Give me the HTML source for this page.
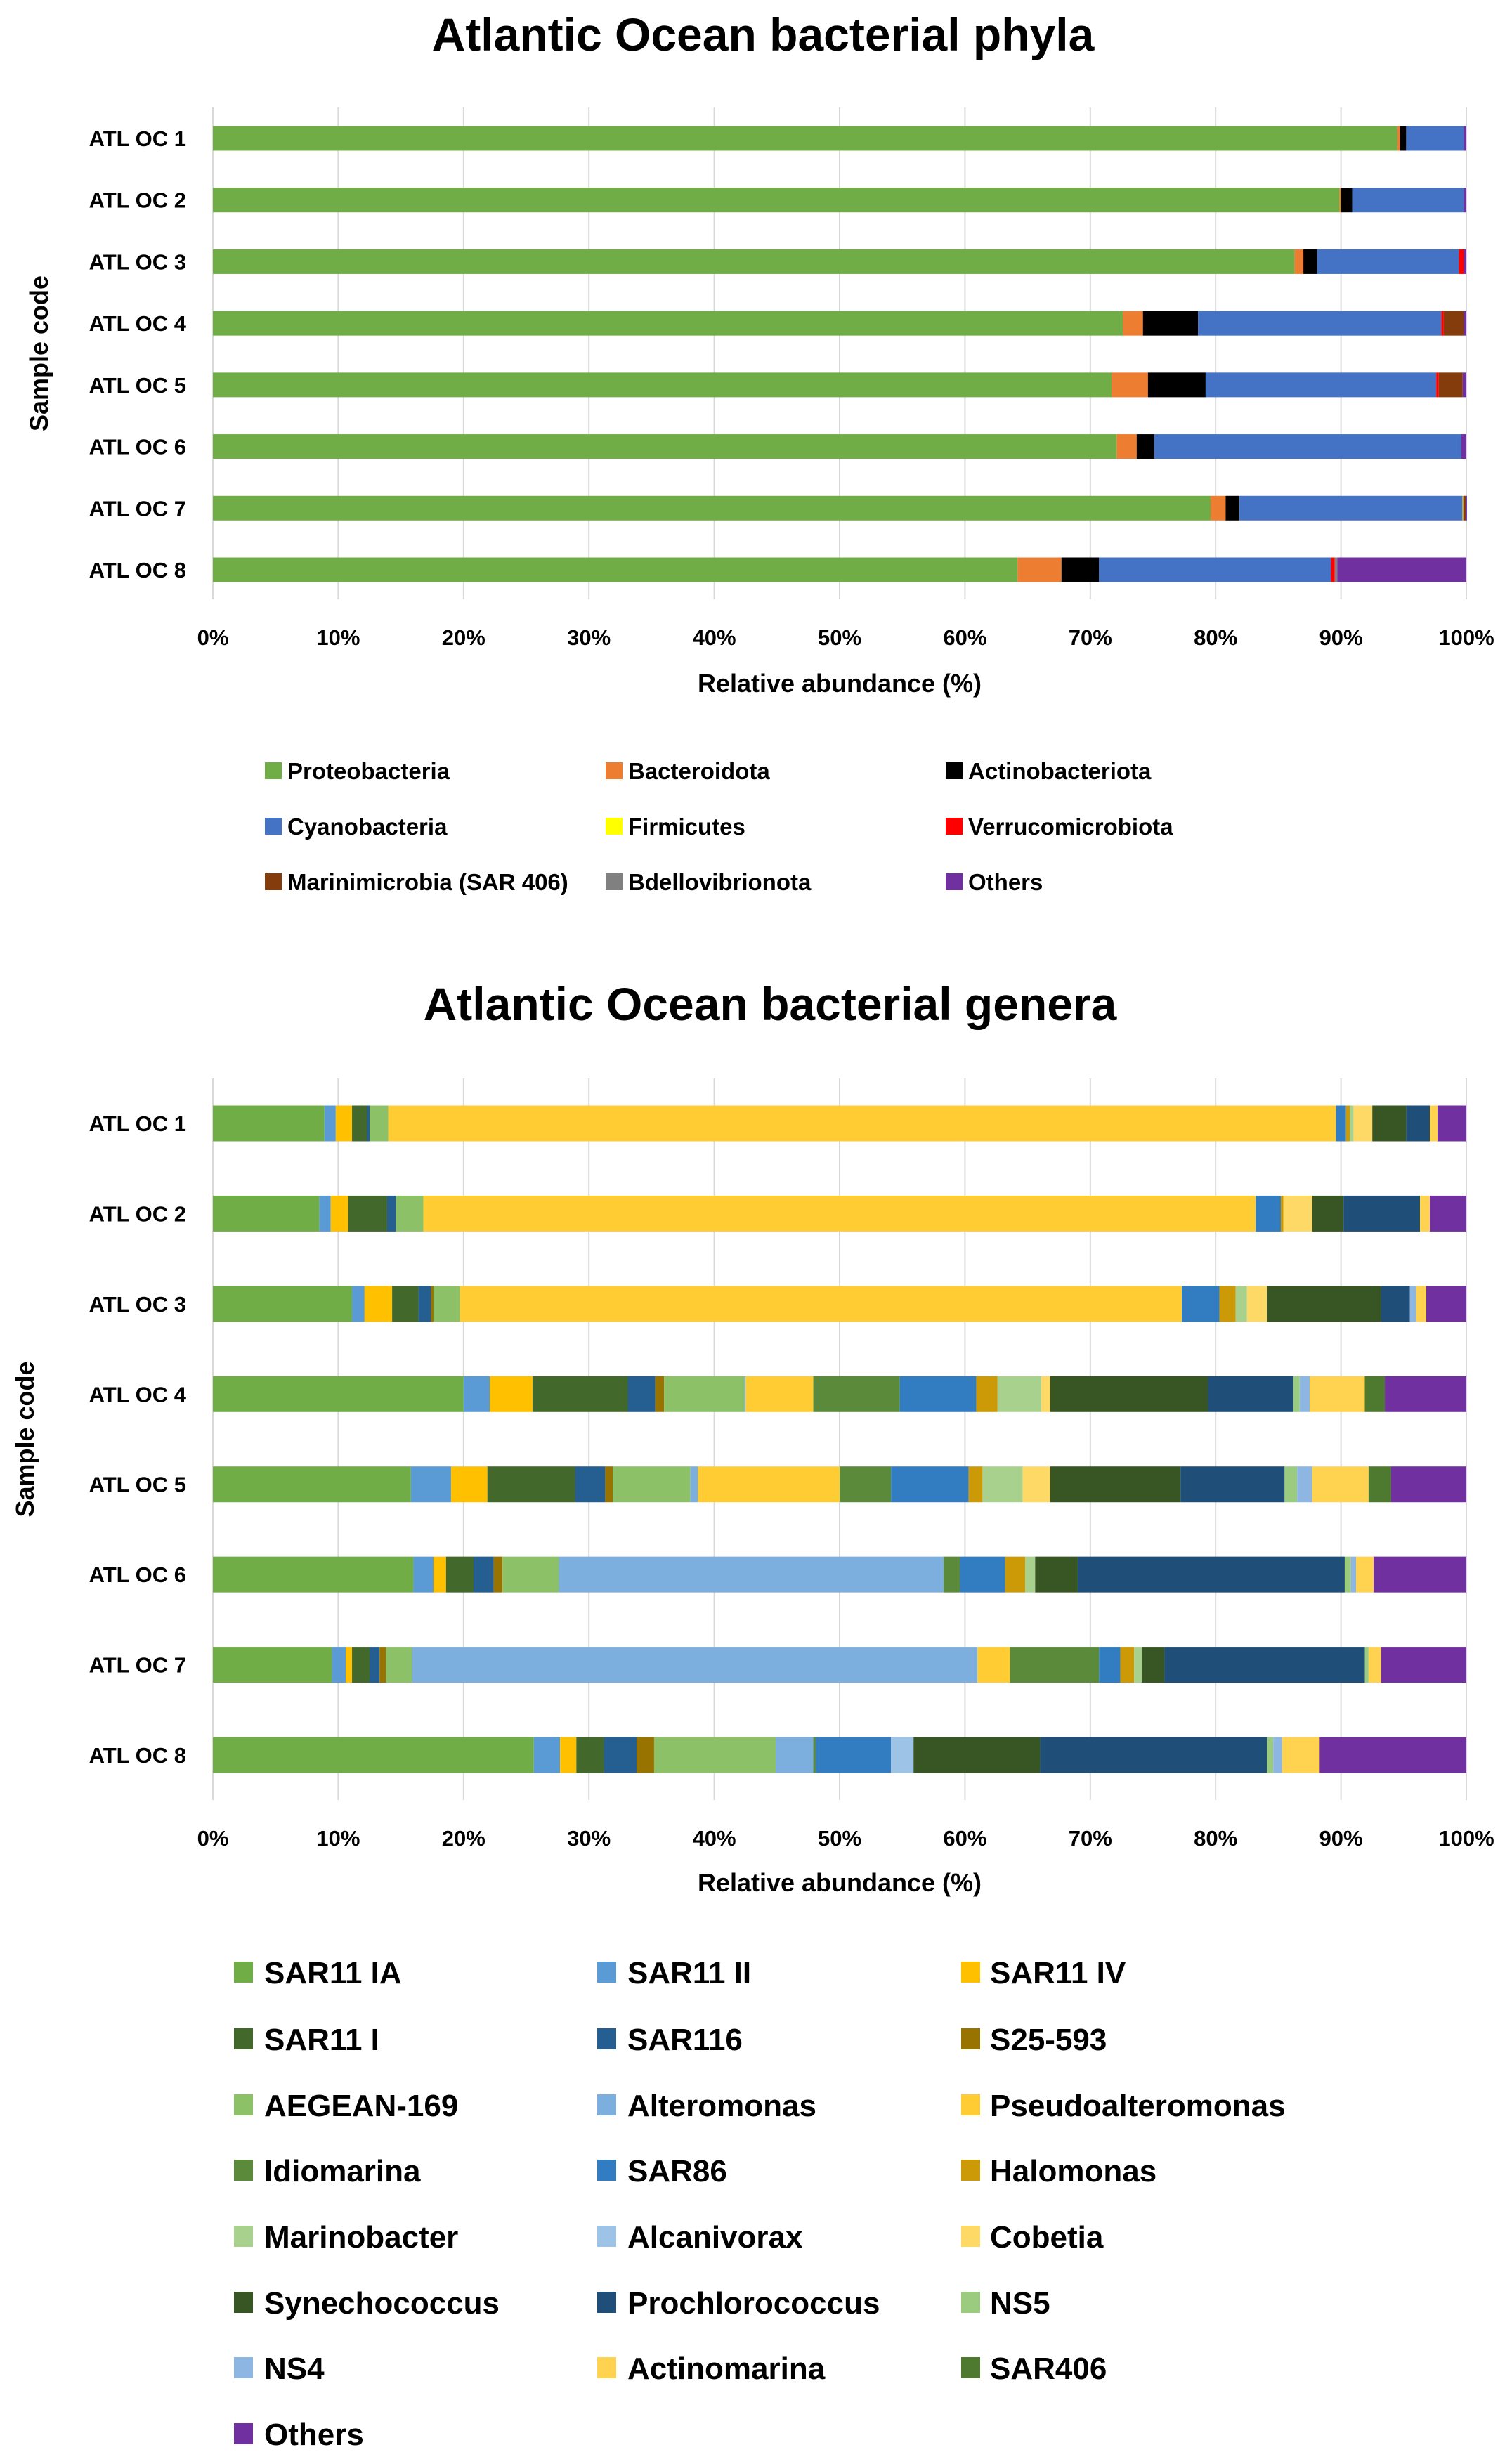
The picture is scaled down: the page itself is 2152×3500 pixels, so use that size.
<!DOCTYPE html>
<html><head><meta charset="utf-8"><style>
html,body{margin:0;padding:0;background:#fff;}
svg{display:block;font-family:"Liberation Sans",sans-serif;}
</style></head><body>
<svg id="root" width="2152" height="3500" viewBox="0 0 2152 3500" xmlns="http://www.w3.org/2000/svg">
<text x="1086" y="72" text-anchor="middle" font-size="66" font-weight="bold">Atlantic Ocean bacterial phyla</text>
<text x="1096" y="1452" text-anchor="middle" font-size="66" font-weight="bold">Atlantic Ocean bacterial genera</text>
<g id="top"></g>
<g id="bot"></g>
</svg>
<script>
const samples = ["ATL OC 1","ATL OC 2","ATL OC 3","ATL OC 4","ATL OC 5","ATL OC 6","ATL OC 7","ATL OC 8"];
const xTicks = ["0%","10%","20%","30%","40%","50%","60%","70%","80%","90%","100%"];
const phyla = ["Proteobacteria","Bacteroidota","Actinobacteriota","Cyanobacteria","Firmicutes","Verrucomicrobiota","Marinimicrobia (SAR 406)","Bdellovibrionota","Others"];
const phylaColors = ["#70AD47","#ED7D31","#000000","#4472C4","#FFFF00","#FF0000","#843C0C","#808080","#7030A0"];
const proteobacteria = [94.5,89.9,86.3,72.6,71.7,72.1,79.6,64.2];
const bacteroidota = [0.2,0.1,0.7,1.6,2.9,1.6,1.2,3.5];
const actinobacteriota = [0.5,0.9,1.1,4.4,4.6,1.4,1.1,3.0];
const cyanobacteria = [4.6,8.9,11.3,19.4,18.4,24.5,17.8,18.5];
const firmicutes = [0,0,0,0,0,0,0.05,0];
const verrucomicrobiota = [0,0,0.4,0.2,0.2,0,0,0.3];
const marinimicrobia = [0,0,0,1.6,1.9,0,0.2,0];
const bdellovibrionota = [0,0,0,0,0,0,0,0.2];
const phylaOthers = [0.2,0.2,0.2,0.2,0.3,0.4,0.1,10.3];
const phylaSeries = [proteobacteria,bacteroidota,actinobacteriota,cyanobacteria,firmicutes,verrucomicrobiota,marinimicrobia,bdellovibrionota,phylaOthers];

const genera = ["SAR11 IA","SAR11 II","SAR11 IV","SAR11 I","SAR116","S25-593","AEGEAN-169","Alteromonas","Pseudoalteromonas","Idiomarina","SAR86","Halomonas","Marinobacter","Alcanivorax","Cobetia","Synechococcus","Prochlorococcus","NS5","NS4","Actinomarina","SAR406","Others"];
const generaColors = ["#70AD47","#5B9BD5","#FFC000","#43682B","#255E91","#997300","#8CC168","#7CAFDD","#FFCD33","#5A8A3A","#327DC2","#CC9A06","#A9D18E","#9DC3E6","#FFD966","#375623","#1F4E79","#9BCB7E","#8DB6E2","#FFD34F","#4E7A30","#7030A0"];
const sar11IA = [8.9,8.5,11.1,20.0,15.8,16.0,9.5,25.6];
const sar11II = [0.9,0.9,1.0,2.1,3.2,1.6,1.1,2.1];
const sar11IV = [1.3,1.4,2.2,3.4,2.9,1.0,0.5,1.3];
const sar11I = [1.2,3.1,2.1,7.6,7.0,2.2,1.4,2.2];
const sar116 = [0.2,0.7,1.0,2.2,2.4,1.6,0.8,2.6];
const s25593 = [0,0,0.2,0.7,0.6,0.7,0.5,1.4];
const aegean169 = [1.5,2.2,2.1,6.4,6.2,4.5,2.1,9.7];
const alteromonas = [0,0,0,0.1,0.6,30.7,45.1,3.0];
const pseudoalteromonas = [75.6,66.4,57.6,5.4,11.3,0,2.6,0];
const idiomarina = [0,0,0,6.9,4.1,1.3,7.1,0.2];
const sar86 = [0.8,2.0,3.0,6.1,6.2,3.6,1.7,6.0];
const halomonas = [0.3,0.2,1.3,1.7,1.1,1.6,1.1,0];
const marinobacter = [0.3,0,0.9,3.5,3.2,0.8,0.6,0];
const alcanivorax = [0,0,0,0,0,0,0,1.8];
const cobetia = [1.5,2.3,1.6,0.7,2.2,0,0,0];
const synechococcus = [2.7,2.5,9.1,12.6,10.4,3.4,1.8,10.1];
const prochlorococcus = [1.9,6.1,2.3,6.8,8.3,21.3,16.0,18.1];
const ns5 = [0,0,0,0.5,1.0,0.5,0.3,0.5];
const ns4 = [0,0,0.5,0.8,1.2,0.4,0,0.7];
const actinomarina = [0.6,0.8,0.8,4.4,4.5,1.4,1.0,3.0];
const sar406 = [0,0,0,1.6,1.8,0,0,0];
const generaOthers = [2.3,2.9,3.2,6.5,6.0,7.4,6.8,11.7];
const generaSeries = [sar11IA,sar11II,sar11IV,sar11I,sar116,s25593,aegean169,alteromonas,pseudoalteromonas,idiomarina,sar86,halomonas,marinobacter,alcanivorax,cobetia,synechococcus,prochlorococcus,ns5,ns4,actinomarina,sar406,generaOthers];

const NS="http://www.w3.org/2000/svg";
function mk(parent,tag,attrs,text){const e=document.createElementNS(NS,tag);for(const k in attrs)e.setAttribute(k,attrs[k]);if(text!==undefined)e.textContent=text;parent.appendChild(e);return e;}

function chart(g,cfg,series,colors,names){
  const x0=303,x1=2087;
  const xs=v=>x0+(x1-x0)*v/100;
  const ys=i=>cfg.yFirst+(cfg.yLast-cfg.yFirst)*i/(samples.length-1);
  xTicks.forEach((t,i)=>{
    const gl=mk(g,'line',{x1:xs(i*10),x2:xs(i*10),y1:cfg.gTop,y2:cfg.gBot,stroke:'#d9d9d9','stroke-width':2});
    
    
    const tl=mk(g,'text',{x:xs(i*10),y:cfg.tickY,'text-anchor':'middle','font-size':31,'font-weight':'bold'},t);
    
    
  });
  samples.forEach((s,i)=>{
    const l=mk(g,'text',{x:265,y:ys(i)+11,'text-anchor':'end','font-size':31,'font-weight':'bold'},s);
    
    
    let acc=0;
    series.forEach((arr,k)=>{
      const v=arr[i];
      if(v>0){
        const r=mk(g,'rect',{x:xs(acc),y:ys(i)-cfg.bh/2,width:Math.max(0,xs(acc+v)-xs(acc)),height:cfg.bh,fill:colors[k]});
        
        
      }
      acc+=v;
    });
  });
  const yt=mk(g,'text',{x:0,y:0,'text-anchor':'middle','font-size':36,'font-weight':'bold',transform:`translate(${cfg.yTitleX},${(cfg.gTop+cfg.gBot)/2}) rotate(-90)`},'Sample code');
  
  
  const xt=mk(g,'text',{x:(x0+x1)/2,y:cfg.titleY,'text-anchor':'middle','font-size':36,'font-weight':'bold'},'Relative abundance (%)');
  
  
  names.forEach((n,k)=>{
    const c=k%3,r=Math.floor(k/3);
    const cy=cfg.legY[r];
    const m=mk(g,'rect',{x:cfg.legMX[c],y:cy-cfg.legMS/2,width:cfg.legMW,height:cfg.legMS,fill:colors[k]});
    
    
    const t=mk(g,'text',{x:cfg.legTX[c],y:cy+cfg.legFS*0.36,'font-size':cfg.legFS,'font-weight':'bold'},n);
    
    
  });
}
chart(document.getElementById('top'),{yFirst:197,yLast:811,bh:35,gTop:153,gBot:853,tickY:918,titleY:985,yTitleX:68,
  legY:[1097,1176,1255],legMX:[377,862,1346],legTX:[409,894,1378],legMW:24,legMS:24,legFS:33},phylaSeries,phylaColors,phyla);
chart(document.getElementById('bot'),{yFirst:1599,yLast:2498,bh:51,gTop:1535,gBot:2562,tickY:2627,titleY:2692,yTitleX:48,
  legY:[2807,2902,2996,3089,3183,3277,3370,3464],legMX:[333,850,1368],legTX:[376,893,1409],legMW:27,legMS:30,legFS:44},generaSeries,generaColors,genera);
</script>
</body></html>
